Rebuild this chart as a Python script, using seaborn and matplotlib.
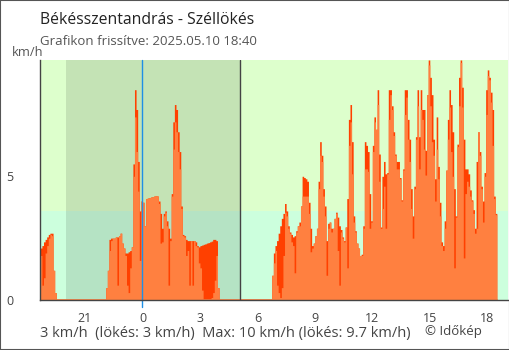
import numpy as np
import pandas as pd
import matplotlib
matplotlib.use("Agg")
import matplotlib.pyplot as plt
from matplotlib.patches import Rectangle
import seaborn as sns

# 5-minute wind readings (km/h) from 2025-05-09 18:40 to 2025-05-10 18:30
# "wind" is the mean wind, "gust" the peak gust in each interval
wind = (
    [1.8, 0.6, 0.9, 1.9, 2.2, 2.5, 2.65, 2.6, 1.2, 0.3]
    + [0.0] * 31
    + [0.5, 1.2, 2.0, 2.4, 2.5, 2.5, 2.55, 0.6, 2.6, 2.7,
       2.3, 2.1, 1.8, 0.6, 0.3, 1.3, 2.15, 5.0, 7.4, 6.0,
       4.4, 1.6, 4.0, 3.95, 3.0, 4.1, 4.12, 4.14, 4.16, 4.18,
       4.2, 4.22, 4.2, 3.9, 2.3, 2.35, 3.4, 3.55, 3.0, 0.6,
       2.4, 4.2, 6.1, 7.2, 6.8, 6.0, 5.3, 3.7, 2.6, 2.55,
       1.8, 2.0, 0.6, 2.4, 0.6, 2.4, 2.2, 2.15, 1.5, 1.3,
       0.4, 0.0, 0.0, 0.0, 0.0, 0.0, 0.1, 0.3, 0.8, 1.8, 0.5]
    + [0.0] * 33
    + [1.0, 1.5, 2.0, 0.6, 0.3, 0.1, 0.5, 1.8,
       3.55, 3.4, 2.9, 2.7, 2.35, 2.2, 1.1, 2.75,
       3.0, 3.0, 3.8, 4.2, 4.2, 4.2, 4.2, 3.5, 1.95, 2.1,
       2.3, 2.6, 2.9, 4.5, 5.85, 5.6, 4.2, 3.4, 1.0, 2.9,
       3.15, 2.75, 2.9, 3.3, 3.5, 2.0, 0.6, 2.75, 2.5, 2.35,
       2.95, 1.3, 6.25, 7.2, 5.1, 3.15, 2.75, 2.3, 2.1, 1.8,
       1.8, 2.9, 5.3, 5.3, 5.2, 2.9, 3.15, 6.0, 7.2, 6.9,
       7.9, 4.8, 2.9, 3.7, 4.6, 2.9, 5.1, 7.3, 8.3, 7.7,
       6.65, 5.85, 5.3, 5.3, 4.9, 4.0, 5.25, 7.5, 8.2, 6.5,
       5.6, 3.7, 2.5, 4.5, 6.5, 7.85, 5.3, 7.7, 7.3, 6.1,
       5.05, 8.3, 9.5, 7.85, 6.4, 5.85, 4.0, 6.1, 4.9, 3.4,
       2.2, 2.0, 2.9, 5.25, 6.5, 7.8, 6.0, 5.0, 1.3, 3.35,
       6.2, 7.85, 9.6, 7.8, 1.7, 4.3, 4.8, 4.6, 4.2, 4.0,
       3.5, 2.7, 2.9, 6.8, 5.85, 4.5, 3.15, 5.0, 7.5, 9.07,
       8.9, 8.0, 6.25, 4.1, 3.45]
)
gust = (
    [2.1, 2.2, 2.35, 2.45, 2.55, 2.65, 2.7, 2.7, 1.2, 0.3]
    + [0.0] * 31
    + [0.5, 1.2, 2.45, 2.5, 2.5, 2.5, 2.55, 2.55, 2.6, 2.7,
       2.3, 2.1, 1.9, 1.9, 1.95, 2.0, 2.15, 5.5, 8.5, 7.7,
       5.6, 3.6, 4.0, 3.95, 3.0, 4.1, 4.12, 4.14, 4.16, 4.18,
       4.2, 4.22, 4.2, 4.0, 3.5, 2.9, 3.5, 3.6, 3.2, 2.9,
       2.5, 4.3, 7.2, 7.9, 7.7, 6.8, 6.0, 3.8, 2.65, 2.6,
       2.45, 2.4, 2.4, 2.4, 2.4, 2.4, 2.35, 2.2, 2.15, 2.2,
       2.22, 2.25, 2.27, 2.3, 2.32, 2.35, 2.38, 2.45, 2.45, 2.4, 0.5]
    + [0.0] * 33
    + [1.0, 1.9, 2.2, 2.4, 2.7, 3.0, 3.3, 3.5,
       3.9, 3.6, 3.0, 2.75, 2.65, 2.55, 2.6, 2.8,
       3.0, 3.15, 3.8, 5.0, 4.95, 4.9, 4.8, 3.95, 2.9, 2.2,
       2.3, 2.6, 2.9, 4.8, 6.4, 5.85, 4.5, 3.8, 2.4, 3.1,
       3.15, 2.9, 2.9, 3.3, 3.55, 3.35, 3.0, 2.85, 2.55, 2.4,
       2.95, 4.1, 7.3, 7.9, 6.4, 3.4, 2.8, 2.3, 2.1, 1.8,
       1.85, 3.0, 6.4, 6.25, 6.0, 4.3, 3.2, 6.25, 7.4, 6.9,
       8.5, 5.9, 2.95, 5.0, 5.6, 5.1, 5.15, 8.5, 8.5, 7.85,
       6.8, 5.9, 5.6, 5.6, 4.95, 4.05, 5.3, 8.5, 8.5, 7.3,
       6.5, 4.5, 3.4, 4.6, 6.6, 8.5, 6.6, 8.5, 7.7, 7.7,
       6.05, 8.3, 9.7, 9.0, 8.3, 6.5, 4.9, 7.4, 5.4, 3.95,
       2.35, 2.2, 3.2, 5.25, 7.3, 8.5, 7.9, 6.8, 4.5, 3.4,
       6.3, 9.0, 9.7, 8.6, 6.5, 5.3, 5.3, 5.1, 4.45, 4.05,
       3.65, 2.9, 5.6, 6.8, 6.0, 4.6, 4.0, 5.15, 8.5, 9.3,
       9.0, 8.4, 7.7, 4.2, 3.5]
)

# time axis in hours relative to midnight of 2025-05-10
t_start = -(5 + 20 / 60)          # 18:40 on the previous day
t_end = 19 + 5 / 60               # right edge of the chart
step_h = 5 / 60
sunset_h = -(4 - 1 / 60)          # 20:01
sunrise_h = 5 + 7 / 60            # 05:07
calm_limit = 3.6                  # 1 m/s
y_max = 9.7

tick_hours = [-3, 0, 3, 6, 9, 12, 15, 18]
tick_labels = ["21", "0", "3", "6", "9", "12", "15", "18"]

title = "Békésszentandrás - Széllökés"
subtitle = "Grafikon frissítve: 2025.05.10 18:40"
summary = "3 km/h  (lökés: 3 km/h)  Max: 10 km/h (lökés: 9.7 km/h)"
credit = "© Időkép"

n = len(wind)
t_stop = t_start + n * step_h
t_mid = t_start + (np.arange(n) + 0.5) * step_h
df = pd.DataFrame({"t": t_mid, "wind": wind, "gust": gust})

sns.set_theme(style="white")
plt.rcParams["font.family"] = ["Open Sans", "DejaVu Sans"]

W, H = 510, 350
fig = plt.figure(figsize=(W / 100, H / 100), dpi=100)
fig.patch.set_facecolor("white")
ax = fig.add_axes([40.3 / W, 50 / H, (508 - 40.3) / W, 240 / H])

ax.set_facecolor("#DDFFCC")
ax.axhspan(0, calm_limit, color="#CCFFDD", lw=0, zorder=0)
ax.axvspan(sunset_h, sunrise_h, color="black", alpha=0.11, lw=0, zorder=0.5)

light = "#FF8040"
dark = "#FF4000"
sns.histplot(x=df["t"].to_numpy(), weights=df["gust"].to_numpy(), bins=n,
             binrange=(t_start, t_stop), element="step", fill=True,
             color=dark, alpha=1, linewidth=0, ax=ax, zorder=2)
sns.histplot(x=df["t"].to_numpy(), weights=df["wind"].to_numpy(), bins=n,
             binrange=(t_start, t_stop), element="step", fill=True,
             color=light, alpha=1, linewidth=0, ax=ax, zorder=2.1)
ax.hlines(0, t_start, t_stop, color=light, lw=2, zorder=2.2)

ax.axvline(0, ymin=-0.03, ymax=1, color="#1E8FE6", lw=1, clip_on=False, zorder=3)
ax.axvline(sunrise_h, color="#444444", lw=1, zorder=3)

ax.set_xlim(t_start, t_end)
ax.set_ylim(0, y_max)
ax.set_xlabel("")
ax.set_ylabel("")
ax.set_xticks(tick_hours)
ax.set_xticklabels(tick_labels)
ax.set_xticks([t_start], minor=True)
ax.set_yticks([0, 5])
ax.set_yticklabels(["0", "5"])

for side in ["top", "right"]:
    ax.spines[side].set_visible(False)
for side in ["left", "bottom"]:
    ax.spines[side].set_color("#444444")
    ax.spines[side].set_linewidth(1)
    ax.spines[side].set_zorder(4)

ax.tick_params(axis="both", which="both", direction="inout", length=9,
               width=1, color="#444444", labelcolor="#444444", labelsize=9)
ax.tick_params(axis="x", pad=4)
ax.tick_params(axis="y", pad=15)

fig.text(40 / W, 1 - 24 / H, title, fontsize=11.3, color="#222222", va="baseline")
fig.text(40 / W, 1 - 45 / H, subtitle, fontsize=9.5, color="#555555", va="baseline")
fig.text(12 / W, 1 - 56 / H, "km/h", fontsize=9.3, color="#555555", va="baseline")
fig.text(40 / W, 1 - 337.5 / H, summary, fontsize=10.5, color="#444444", va="baseline")
fig.text(425 / W, 1 - 335 / H, credit, fontsize=9.5, color="#444444", va="baseline")

fig.patches.append(Rectangle((0, 0), 1, 1, transform=fig.transFigure,
                             fill=False, edgecolor="#555555", lw=1.5))

fig.savefig("out.png", dpi=100)
